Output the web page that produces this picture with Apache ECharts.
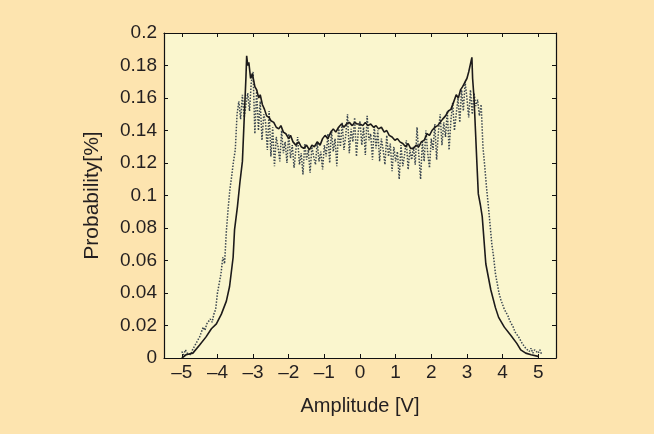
<!DOCTYPE html>
<html>
<head>
<meta charset="utf-8">
<script src="https://cdn.jsdelivr.net/npm/echarts@6/dist/echarts.min.js"></script>
<style>
html,body{margin:0;padding:0;background:#FDE4AF;}
#c{width:654px;height:434px;}
</style>
</head>
<body>
<div id="c"></div>
<script>
// X tick labels and Y ticks
var xTicks = [-5, -4, -3, -2, -1, 0, 1, 2, 3, 4, 5];
var yTicks = [0, 0.02, 0.04, 0.06, 0.08, 0.1, 0.12, 0.14, 0.16, 0.18, 0.2];

// Solid curve: amplitude and probability
var solidX = [-5.00,-4.88,-4.69,-4.50,-4.32,-4.17,-4.03,-3.89,-3.75,-3.66,-3.56,-3.52,-3.44,-3.37,-3.30,-3.25,-3.20,-3.18,
  -3.15,-3.12,-3.07,-3.02,-2.95,-2.90,-2.84,-2.80,-2.74,-2.68,-2.62,-2.55,-2.50,-2.42,-2.35,-2.28,-2.22,-2.15,-2.08,
  -2.00,-1.95,-1.88,-1.80,-1.72,-1.65,-1.58,-1.50,-1.42,-1.35,-1.28,-1.20,-1.12,-1.05,-0.98,-0.90,-0.82,-0.75,-0.68,
  -0.60,-0.52,-0.45,-0.38,-0.30,-0.22,-0.15,-0.08,0.00,0.08,0.15,0.22,0.30,0.38,0.45,0.52,0.60,0.68,0.75,0.82,0.90,
  0.98,1.05,1.12,1.20,1.28,1.35,1.42,1.50,1.58,1.65,1.72,1.80,1.88,1.95,2.02,2.10,2.18,2.25,2.32,2.40,2.48,2.55,2.62,
  2.70,2.76,2.82,2.88,2.95,3.00,3.05,3.10,3.14,3.16,3.20,3.24,3.28,3.32,3.38,3.43,3.53,3.67,3.80,3.89,4.05,4.23,4.40,
  4.51,4.65,4.80,5.00];
var solidY = [0.000,0.002,0.003,0.008,0.013,0.018,0.021,0.027,0.035,0.044,0.062,0.079,0.093,0.108,0.121,0.147,0.173,0.186,
  0.180,0.182,0.172,0.175,0.167,0.165,0.160,0.162,0.156,0.153,0.149,0.148,0.146,0.145,0.142,0.141,0.143,0.139,0.138,
  0.135,0.137,0.133,0.131,0.133,0.130,0.129,0.131,0.128,0.131,0.130,0.133,0.131,0.135,0.137,0.135,0.139,0.141,0.139,
  0.142,0.144,0.142,0.144,0.145,0.143,0.145,0.144,0.144,0.143,0.145,0.143,0.144,0.142,0.143,0.141,0.142,0.139,0.140,
  0.137,0.136,0.134,0.135,0.133,0.132,0.130,0.132,0.129,0.129,0.131,0.130,0.133,0.134,0.138,0.137,0.140,0.142,0.143,
  0.145,0.147,0.149,0.152,0.153,0.157,0.162,0.160,0.165,0.167,0.170,0.172,0.176,0.181,0.185,0.172,0.160,0.140,0.120,
  0.101,0.094,0.087,0.058,0.042,0.031,0.025,0.019,0.014,0.009,0.005,0.003,0.002,0.001];

// Dotted (noisy) curve, sampled every 0.05 V starting at -5.00
var dottedStart = -5.0;
var dottedStep = 0.05;
var dottedY = [
  0.004,0.002,0.005,0.003,0.004,0.002,0.005,0.007,0.009,0.011,
  0.013,0.016,0.019,0.017,0.021,0.020,0.024,0.022,0.027,0.030,
  0.040,0.046,0.052,0.062,0.058,0.078,0.092,0.104,0.112,0.121,
  0.128,0.150,0.158,0.147,0.162,0.148,0.156,0.163,0.152,0.170,
  0.176,0.138,0.165,0.140,0.158,0.134,0.150,0.145,0.128,0.152,
  0.124,0.142,0.118,0.136,0.130,0.121,0.140,0.126,0.133,0.120,
  0.138,0.123,0.131,0.117,0.128,0.136,0.119,0.126,0.113,0.132,
  0.122,0.128,0.114,0.130,0.124,0.119,0.133,0.121,0.127,0.116,
  0.131,0.124,0.138,0.120,0.140,0.127,0.135,0.118,0.142,0.130,
  0.145,0.128,0.137,0.150,0.126,0.141,0.133,0.148,0.124,0.139,
  0.146,0.131,0.142,0.125,0.149,0.134,0.138,0.122,0.143,0.129,
  0.140,0.121,0.135,0.128,0.119,0.137,0.124,0.132,0.115,0.130,
  0.121,0.127,0.110,0.131,0.118,0.125,0.134,0.116,0.128,0.122,
  0.130,0.119,0.142,0.125,0.110,0.133,0.121,0.140,0.126,0.117,
  0.135,0.128,0.144,0.122,0.139,0.150,0.131,0.145,0.136,0.152,
  0.128,0.146,0.157,0.140,0.150,0.160,0.145,0.165,0.152,0.170,
  0.160,0.148,0.165,0.150,0.163,0.155,0.159,0.149,0.156,0.130,
  0.118,0.105,0.094,0.082,0.070,0.062,0.052,0.046,0.040,0.036,
  0.033,0.030,0.028,0.026,0.023,0.021,0.019,0.016,0.017,0.013,
  0.011,0.009,0.008,0.006,0.005,0.004,0.006,0.003,0.005,0.004,
  0.003,0.005,0.002
];

var solidData = solidX.map(function (x, i) { return [x, solidY[i]]; });
var dottedData = dottedY.map(function (y, i) { return [+(dottedStart + i * dottedStep).toFixed(2), y]; });

var fontFam = '"Liberation Sans", Arial, Helvetica, sans-serif';
var txt = '#231f20';

function fmtX(v) { return v < 0 ? '\u2013' + Math.abs(v) : String(v); }

var chart = echarts.init(document.getElementById('c'), null, { renderer: 'canvas' });
chart.setOption({
  backgroundColor: '#FDE4AF',
  animation: false,
  grid: { left: 164, top: 33, right: 98, bottom: 76, show: true, backgroundColor: '#FAF6CE', borderWidth: 0 },
  xAxis: [{
    type: 'value', min: -5.5, max: 5.5, position: 'bottom',
    name: 'Amplitude [V]', nameLocation: 'middle', nameGap: 38,
    nameTextStyle: { fontFamily: fontFam, fontSize: 20, color: txt },
    axisLine: { show: true, onZero: false, lineStyle: { color: '#111', width: 1.2 } },
    axisTick: { show: true, inside: true, length: 4, customValues: xTicks, lineStyle: { color: '#111' } },
    axisLabel: { customValues: xTicks, formatter: fmtX, fontFamily: fontFam, fontSize: 19, color: txt, margin: 5 },
    splitLine: { show: false }
  }, {
    type: 'value', min: -5.5, max: 5.5, position: 'top',
    axisLine: { show: true, onZero: false, lineStyle: { color: '#111', width: 1.2 } },
    axisTick: { show: true, inside: true, length: 4, customValues: xTicks, lineStyle: { color: '#111' } },
    axisLabel: { show: false }, splitLine: { show: false }
  }],
  yAxis: [{
    type: 'value', min: 0, max: 0.2, interval: 0.02, position: 'left',
    name: 'Probability[%]', nameLocation: 'middle', nameGap: 61,
    nameTextStyle: { fontFamily: fontFam, fontSize: 21, color: txt },
    axisLine: { show: true, onZero: false, lineStyle: { color: '#111', width: 1.2 } },
    axisTick: { show: true, inside: true, length: 4, lineStyle: { color: '#111' } },
    axisLabel: { fontFamily: fontFam, fontSize: 19, color: txt, margin: 7 },
    splitLine: { show: false }
  }, {
    type: 'value', min: 0, max: 0.2, interval: 0.02, position: 'right',
    axisLine: { show: true, onZero: false, lineStyle: { color: '#111', width: 1.2 } },
    axisTick: { show: true, inside: true, length: 4, lineStyle: { color: '#111' } },
    axisLabel: { show: false }, splitLine: { show: false }
  }],
  series: [{
    type: 'line', data: dottedData, xAxisIndex: 0, yAxisIndex: 0,
    showSymbol: false, symbol: 'none',
    lineStyle: { color: '#3a4650', width: 1.5, type: 'dotted' }, z: 2
  }, {
    type: 'line', data: solidData, xAxisIndex: 0, yAxisIndex: 0,
    showSymbol: false, symbol: 'none',
    lineStyle: { color: '#1c1a1a', width: 1.6 }, z: 3
  }]
});
</script>
</body>
</html>
